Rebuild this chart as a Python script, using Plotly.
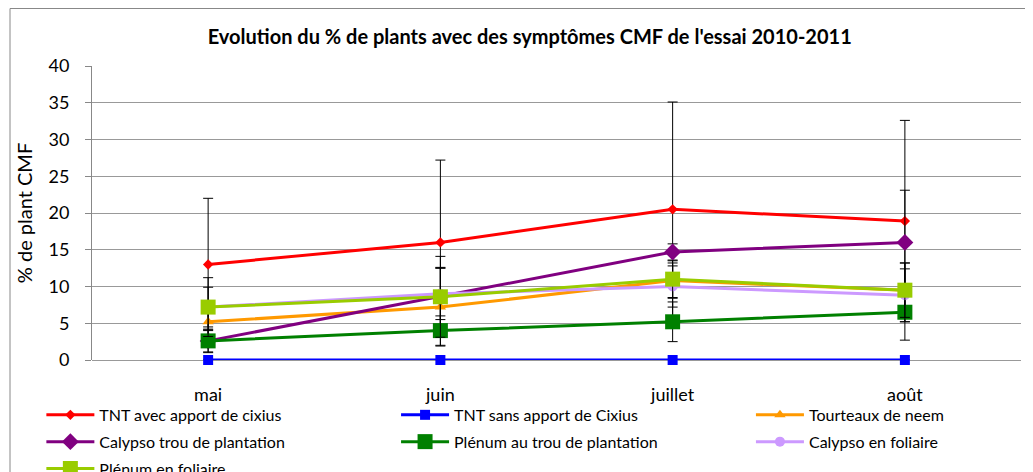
import plotly.graph_objects as go

months = ["mai", "juin", "juillet", "août"]

names = ["TNT avec apport de cixius", "TNT sans apport de Cixius", "Tourteaux de neem",
         "Calypso trou de plantation", "Plénum au trou de plantation", "Calypso en foliaire",
         "Plénum en foliaire"]

tnt_avec = [13.0, 16.0, 20.5, 18.9]
tnt_sans = [0.0, 0.0, 0.0, 0.0]
tourteaux = [5.2, 7.2, 10.8, 9.5]
calypso_trou = [2.6, 8.6, 14.7, 16.0]
plenum_trou = [2.6, 4.0, 5.2, 6.5]
calypso_fol = [7.2, 9.0, 10.0, 8.8]
plenum_fol = [7.2, 8.6, 11.0, 9.5]

err_tnt_avec = [9.0, 11.2, 14.6, 13.7]
err_tnt_sans = [0.0, 0.0, 0.0, 0.0]
err_tourteaux = [2.6, 5.3, 2.4, 3.7]
err_calypso_trou = [1.6, 4.0, 1.1, 7.1]
err_plenum_trou = [1.5, 2.0, 2.7, 3.8]
err_calypso_fol = [2.7, 3.5, 2.8, 3.6]
err_plenum_fol = [4.0, 5.5, 2.5, 3.7]

series = [tnt_avec, tnt_sans, tourteaux, calypso_trou, plenum_trou, calypso_fol, plenum_fol]
errors = [err_tnt_avec, err_tnt_sans, err_tourteaux, err_calypso_trou, err_plenum_trou,
          err_calypso_fol, err_plenum_fol]
colors = ["#FF0000", "#0000FF", "#FF9900", "#800080", "#008000", "#CC99FF", "#99CC00"]
symbols = ["diamond", "square", "triangle-up", "diamond", "square", "circle", "square"]
sizes = [8, 10, 10, 13, 15, 10, 15]
legend_ids = ["legend", "legend2", "legend3", "legend", "legend2", "legend3", "legend"]

font = "Lato, 'Open Sans', sans-serif"

# page has an 8px body margin; figure is sized/placed to compensate
W, H = 1025, 464
L, T, R, B = 84, 58, 12, 112
PW = W - L - R
PH = H - T - B

fig = go.Figure()
for i, (name, ys, err, c, s, sz, lg) in enumerate(
        zip(names, series, errors, colors, symbols, sizes, legend_ids)):
    fig.add_trace(go.Scatter(
        x=months, y=ys, name=name, mode="lines+markers",
        line=dict(color=c, width=3),
        marker=dict(color=c, symbol=s, size=sz),
        error_y=dict(type="data", array=err, visible=True, color="black", thickness=1, width=5),
        legend=lg, legendgroup="g%d" % i, cliponaxis=False,
    ))

leg_common = dict(orientation="v", xanchor="left", yanchor="top", y=-0.129,
                  font=dict(size=16, family=font), traceorder="grouped",
                  tracegroupgap=3, itemwidth=48, bgcolor="rgba(0,0,0,0)")

fig.update_layout(
    width=W, height=H,
    margin=dict(l=L, r=R, t=T, b=B, autoexpand=False),
    paper_bgcolor="white", plot_bgcolor="white",
    font=dict(family=font, color="black"),
    title=dict(text="<b>Evolution du % de plants avec des symptômes CMF de l'essai 2010-2011</b>",
               x=0.509, xref="container", xanchor="center",
               y=1 - 29 / H, yref="container", yanchor="middle",
               font=dict(size=20, family=font)),
    xaxis=dict(type="category", range=[-0.5, 3.5], showgrid=False, showline=False,
               ticks="", tickfont=dict(size=18), zeroline=False, ticklabelstandoff=22),
    yaxis=dict(range=[0, 40], dtick=5, showgrid=True, gridcolor="#999999", gridwidth=1,
               showline=True, linecolor="#888888", ticks="outside", ticklen=6,
               tickcolor="#888888", tickfont=dict(size=18), zeroline=True,
               zerolinecolor="#999999", zerolinewidth=1, ticklabelstandoff=12,
               title=dict(text="% de plant CMF", font=dict(size=20), standoff=10)),
    legend=dict(x=-0.0545, **leg_common),
    legend2=dict(x=0.3273, **leg_common),
    legend3=dict(x=0.7093, **leg_common),
    showlegend=True,
)

fig.add_shape(type="rect", xref="paper", yref="paper",
              x0=(2 - L) / PW, x1=1.2, y0=-0.6, y1=1 + (T - 0.5) / PH,
              line=dict(color="#888888", width=1), fillcolor="rgba(0,0,0,0)", layer="below")

fig.write_html("out.html")
